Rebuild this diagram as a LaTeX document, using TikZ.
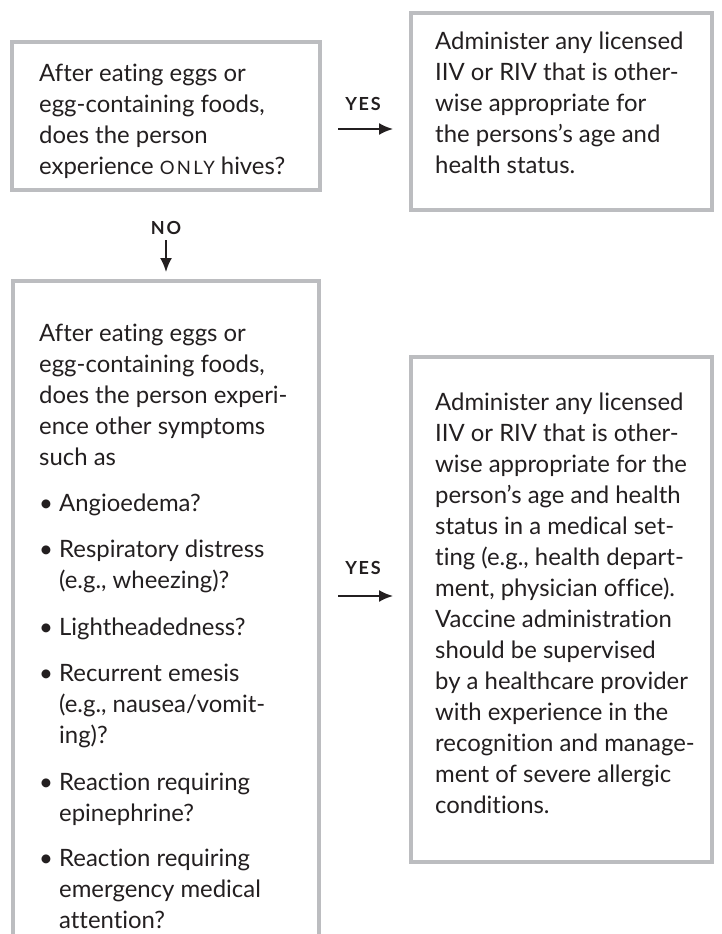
\documentclass[tikz,border=0pt]{standalone}
\usepackage{fontspec}
\setmainfont{Lato}[Ligatures=NoCommon]
\newfontfamily\labfont[LetterSpace=10]{Lato}
\newfontfamily\scfont[LetterSpace=12]{Lato}
\usetikzlibrary{arrows.meta}
\definecolor{boxgray}{HTML}{BCBDC0}
\definecolor{txt}{HTML}{231F20}
\newcommand{\smc}[1]{{\scfont\fontsize{18.5}{18.5}\selectfont #1}}
\newcommand{\fs}{\rule{0pt}{22pt}}
\begin{document}
\begin{tikzpicture}[x=1pt,y=-1pt,
  boxline/.style={draw=boxgray,line width=3.5pt,fill=white},
  bodytext/.style={anchor=north west,align=left,inner sep=0pt,text=txt,
    font=\fontsize{23.9}{31}\selectfont},
  lab/.style={inner sep=0pt,text=txt,font=\labfont\bfseries\fontsize{18}{18}\selectfont},
  arr/.style={line width=2pt,txt,-{Latex[length=14pt,width=12pt]}}]
\useasboundingbox (0,0) rectangle (721,934);
\fill[white] (0,0) rectangle (721,934);
% boxes
\draw[boxline] (12,42) rectangle (320,190);
\draw[boxline] (411,13) rectangle (712,210);
\draw[boxline] (13,960) -- (13,281) -- (319,281) -- (319,960);
\draw[boxline] (411,357) rectangle (712,862);
% box 1 text (first baseline y+22)
\node[bodytext] (q1) at (39,59) {\fs After eating eggs or\\egg-containing foods,\\does the person\\experience \smc{ONLY} hives?};
% box 2 text
\node[bodytext] (a1) at (435,27) {\fs Administer any licensed\\IIV or RIV that is other-\\wise appropriate for\\the persons’s age and\\health status.};
% box 3 text
\node[bodytext] (q2) at (39,319) {\fs After eating eggs or\\egg-containing foods,\\does the person experi-\\ence other symptoms\\such as};
\node[bodytext] (b1) at (39,489) {\fs •\ Angioedema?};
\node[bodytext] (b2) at (39,535) {\fs •\ Respiratory distress\\\phantom{•\ }(e.g., wheezing)?};
\node[bodytext] (b3) at (39,613) {\fs •\ Lightheadedness?};
\node[bodytext] (b4) at (39,659) {\fs •\ Recurrent emesis\\\phantom{•\ }(e.g., nausea/vomit-\\\phantom{•\ }ing)?};
\node[bodytext] (b5) at (39,768) {\fs •\ Reaction requiring\\\phantom{•\ }epinephrine?};
\node[bodytext] (b6) at (39,844) {\fs •\ Reaction requiring\\\phantom{•\ }emergency medical\\\phantom{•\ }attention?};
% box 4 text
\node[bodytext] (a2) at (435,388) {\fs Administer any licensed\\IIV or RIV that is other-\\wise appropriate for the\\person’s age and health\\status in a medical set-\\ting (e.g., health depart-\\ment, physician office).\\Vaccine administration\\should be supervised\\by a healthcare provider\\with experience in the\\recognition and manage-\\ment of severe allergic\\conditions.};
% labels and arrows
\node[lab] (yes1) at (363,104) {YES};
\coordinate (y1s) at (338,129);
\coordinate (y1e) at (393,129);
\draw[arr] (y1s) -- (y1e);
\node[lab] (no1) at (166,228) {NO};
\coordinate (n1s) at (166,240);
\coordinate (n1e) at (166,272);
\draw[arr] (n1s) -- (n1e);
\node[lab] (yes2) at (363,568) {YES};
\coordinate (y2s) at (338,596);
\coordinate (y2e) at (393,596);
\draw[arr] (y2s) -- (y2e);
\end{tikzpicture}
\end{document}
